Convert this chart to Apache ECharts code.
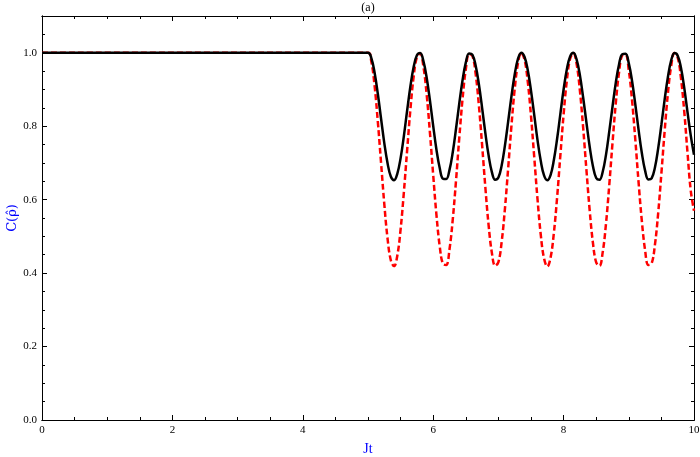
<!DOCTYPE html>
<html>
<head>
<meta charset="utf-8">
<script src="https://cdn.jsdelivr.net/npm/echarts@6/dist/echarts.min.js"></script>
<style>
  html, body { margin: 0; padding: 0; background: #fff; }
  #chart { width: 700px; height: 457px; }
</style>
</head>
<body>
<div id="chart"></div>
<script>
// Jt sample positions
var jt = [0,
  5.00, 5.05, 5.10, 5.15, 5.20, 5.25, 5.30, 5.35, 5.40, 5.45,
  5.50, 5.55, 5.60, 5.65, 5.70, 5.75, 5.80, 5.85, 5.90, 5.95,
  6.00, 6.05, 6.10, 6.15, 6.20, 6.25, 6.30, 6.35, 6.40, 6.45,
  6.50, 6.55, 6.60, 6.65, 6.70, 6.75, 6.80, 6.85, 6.90, 6.95,
  7.00, 7.05, 7.10, 7.15, 7.20, 7.25, 7.30, 7.35, 7.40, 7.45,
  7.50, 7.55, 7.60, 7.65, 7.70, 7.75, 7.80, 7.85, 7.90, 7.95,
  8.00, 8.05, 8.10, 8.15, 8.20, 8.25, 8.30, 8.35, 8.40, 8.45,
  8.50, 8.55, 8.60, 8.65, 8.70, 8.75, 8.80, 8.85, 8.90, 8.95,
  9.00, 9.05, 9.10, 9.15, 9.20, 9.25, 9.30, 9.35, 9.40, 9.45,
  9.50, 9.55, 9.60, 9.65, 9.70, 9.75, 9.80, 9.85, 9.90, 9.95,
  10.00];

// solid black curve
var cBlack = [1.000,
  1.000, 0.986, 0.947, 0.889, 0.821, 0.754, 0.699, 0.663, 0.653, 0.671,
  0.713, 0.773, 0.842, 0.908, 0.961, 0.993, 0.999, 0.977, 0.932, 0.870,
  0.801, 0.736, 0.686, 0.657, 0.656, 0.681, 0.729, 0.793, 0.862, 0.925,
  0.973, 0.998, 0.995, 0.966, 0.915, 0.850, 0.781, 0.720, 0.675, 0.654,
  0.660, 0.693, 0.747, 0.813, 0.881, 0.941, 0.983, 1.000, 0.989, 0.953,
  0.897, 0.830, 0.762, 0.705, 0.666, 0.653, 0.667, 0.707, 0.765, 0.833,
  0.900, 0.955, 0.990, 1.000, 0.981, 0.939, 0.878, 0.810, 0.744, 0.691,
  0.659, 0.654, 0.676, 0.722, 0.785, 0.853, 0.918, 0.968, 0.996, 0.997,
  0.971, 0.923, 0.859, 0.790, 0.727, 0.679, 0.655, 0.658, 0.687, 0.739,
  0.804, 0.873, 0.934, 0.979, 0.999, 0.992, 0.959, 0.905, 0.839, 0.775,
  0.722];

// dashed red curve
var cRed = [1.000,
  1.000, 0.977, 0.912, 0.814, 0.701, 0.588, 0.494, 0.435, 0.419, 0.448,
  0.519, 0.620, 0.734, 0.845, 0.935, 0.988, 0.998, 0.962, 0.886, 0.782,
  0.667, 0.558, 0.473, 0.425, 0.422, 0.465, 0.546, 0.652, 0.768, 0.874,
  0.955, 0.996, 0.992, 0.944, 0.858, 0.749, 0.633, 0.530, 0.455, 0.420,
  0.430, 0.485, 0.575, 0.686, 0.801, 0.901, 0.971, 1.000, 0.982, 0.922,
  0.828, 0.715, 0.601, 0.504, 0.440, 0.418, 0.442, 0.508, 0.605, 0.720,
  0.832, 0.925, 0.984, 0.999, 0.969, 0.897, 0.796, 0.681, 0.571, 0.482,
  0.429, 0.420, 0.457, 0.534, 0.639, 0.754, 0.862, 0.946, 0.993, 0.995,
  0.952, 0.870, 0.763, 0.647, 0.542, 0.462, 0.422, 0.426, 0.476, 0.562,
  0.672, 0.787, 0.890, 0.964, 0.999, 0.987, 0.931, 0.841, 0.729, 0.625,
  0.570];

var xTicks = [0, 10, 2, 0.5];    // min, max, major, minor
var yTicks = [0, 1.1, 0.2, 0.05];

function pairs(ys) {
  return jt.map(function (t, i) { return [t, ys[i]]; });
}

var font = "'Liberation Serif', 'DejaVu Serif', serif";

function frameAxis(pos, dim, ticks, major, labels) {
  var ax = {
    type: 'value',
    position: pos,
    min: ticks[0],
    max: ticks[1],
    interval: major ? ticks[2] : ticks[3],
    splitLine: { show: false },
    axisLine: { show: true, onZero: false, lineStyle: { color: '#000', width: 1 } },
    axisTick: { show: true, inside: true, length: major ? 5 : 3, lineStyle: { color: '#000', width: 1 } },
    axisLabel: {
      show: labels, color: '#000', fontFamily: font, fontSize: 11, margin: 5,
      showMaxLabel: dim === 'x',
      formatter: function (v) { return dim === 'y' ? v.toFixed(1) : String(v); }
    }
  };
  return ax;
}

var chart = echarts.init(document.getElementById('chart'));
var xAxes = [frameAxis('bottom', 'x', xTicks, true, true), frameAxis('bottom', 'x', xTicks, false, false),
             frameAxis('top', 'x', xTicks, true, false), frameAxis('top', 'x', xTicks, false, false)];
var yAxes = [frameAxis('left', 'y', yTicks, true, true), frameAxis('left', 'y', yTicks, false, false),
             frameAxis('right', 'y', yTicks, true, false), frameAxis('right', 'y', yTicks, false, false)];

xAxes[0].name = 'Jt';
xAxes[0].nameLocation = 'middle';
xAxes[0].nameGap = 22;
xAxes[0].nameMoveOverlap = false;
xAxes[0].nameTextStyle = { color: '#0000ff', fontFamily: font, fontSize: 14 };
yAxes[0].name = 'C(\u03C1\u0302)';
yAxes[0].nameLocation = 'middle';
yAxes[0].nameRotate = 90;
yAxes[0].nameGap = 23;
yAxes[0].nameMoveOverlap = false;
yAxes[0].nameTextStyle = { color: '#0000ff', fontFamily: "'DejaVu Serif', serif", fontSize: 13 };

chart.setOption({
  animation: false,
  backgroundColor: '#fff',
  title: {
    text: '(a)',
    left: 368,
    top: 2,
    padding: 0,
    textAlign: 'center',
    textStyle: { color: '#000', fontFamily: font, fontSize: 12, fontWeight: 'normal' }
  },
  grid: { left: 42, right: 6, top: 16, bottom: 37, containLabel: false, outerBoundsMode: 'none' },
  xAxis: xAxes,
  yAxis: yAxes,
  series: [
    {
      type: 'line',
      data: pairs(cRed),
      smooth: 0.4,
      showSymbol: false,
      clip: true,
      lineStyle: { color: '#ff0000', width: 2.5, type: [6, 3] },
      z: 2
    },
    {
      type: 'line',
      data: pairs(cBlack),
      smooth: 0.4,
      showSymbol: false,
      clip: true,
      lineStyle: { color: '#000', width: 2.5 },
      z: 3
    }
  ]
});
</script>
</body>
</html>
